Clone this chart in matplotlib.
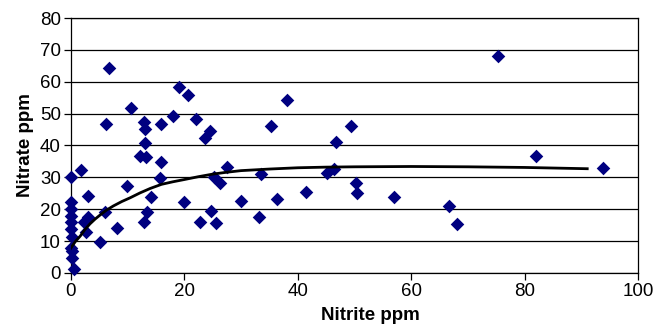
import matplotlib
matplotlib.use("Agg")
import matplotlib.pyplot as plt

# scatter data
nitrite = [0, 0, 0, 0, 0, 0, 0.2, 0, 0.3, 0.2, 0.6,
           1.8, 3.1, 2.3, 2.7, 3.1, 6.0, 5.2, 6.3, 6.7, 8.1,
           10.0, 10.7, 12.2, 13.0, 13.1, 13.1, 13.3, 13.0, 13.4, 14.1,
           15.9, 15.9, 15.8, 18.1, 19.1, 20.6, 19.9, 22.1, 22.8, 23.7,
           24.5, 24.7, 25.2, 25.6, 26.3, 27.5, 30.0, 33.1, 33.5, 35.2,
           36.4, 38.1, 41.5, 45.1, 46.3, 46.7, 49.3, 50.2, 50.4, 56.9,
           66.7, 68.0, 75.2, 82.0, 93.8]
nitrate = [30.0, 22.2, 20.0, 17.9, 16.0, 13.7, 11.4, 7.7, 7.0, 4.6, 1.2,
           32.2, 24.1, 16.1, 12.9, 17.6, 19.0, 9.6, 46.7, 64.2, 14.2,
           27.4, 51.9, 36.7, 47.4, 45.1, 40.8, 36.3, 16.1, 19.2, 23.7,
           46.7, 34.9, 29.7, 49.2, 58.4, 55.8, 22.2, 48.3, 16.1, 42.4,
           44.6, 19.5, 30.0, 15.6, 28.1, 33.1, 22.6, 17.6, 31.0, 46.1,
           23.2, 54.2, 25.5, 31.4, 32.5, 41.2, 46.1, 28.1, 25.0, 23.9,
           21.0, 15.4, 68.0, 36.8, 33.0]

# trend curve
trend_x = [0, 0.8, 1.7, 2.5, 3.4, 4.3, 5.2, 6.3, 7.5, 9.0, 10.5, 12.2, 14.0,
           16.0, 18.0, 20.0, 22.5, 25.0, 27.5, 30.0, 35.0, 40.0, 45.0,
           50.0, 60.0, 70.0, 80.0, 91.0]
trend_y = [7.7, 9.8, 11.6, 13.6, 15.4, 16.9, 18.2, 19.7, 21.0, 22.4, 23.6,
           25.1, 26.5, 27.8, 28.6, 29.3, 30.2, 31.0, 31.6, 32.1, 32.6,
           33.0, 33.2, 33.3, 33.4, 33.3, 33.1, 32.7]

plt.rcParams['font.family'] = ['Liberation Sans', 'DejaVu Sans']

fig = plt.figure(figsize=(6.67, 3.28), dpi=100)
ax = fig.add_axes([0.106, 0.168, 0.851, 0.777])

ax.scatter(nitrite, nitrate, marker='D', s=48, color='#000080',
           linewidths=0, zorder=3, clip_on=False)
ax.plot(trend_x, trend_y, color='black', lw=2.0, zorder=4)

ax.set_xlim(0, 100)
ax.set_ylim(0, 80)
ax.set_xticks(range(0, 101, 20))
ax.set_yticks(range(0, 81, 10))
ax.grid(axis='y', color='black', lw=0.9)
ax.set_axisbelow(True)
for sp in ax.spines.values():
    sp.set_color('black')
    sp.set_linewidth(0.9)
ax.tick_params(direction='out', length=5, width=0.9, labelsize=13.5, pad=2)

ax.set_xlabel('Nitrite ppm', fontsize=13.5, fontweight='bold')
ax.xaxis.set_label_coords(0.528, -0.135)
ax.set_ylabel('Nitrate ppm', fontsize=13.5, fontweight='bold', labelpad=4)

fig.savefig('out.png', dpi=100)
